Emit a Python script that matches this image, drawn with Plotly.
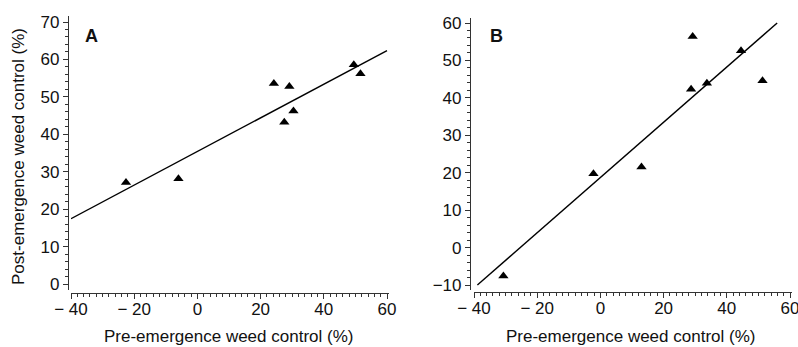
import numpy as np
import plotly.graph_objects as go

# Panel A data
pre_a = [-22.6, -6.0, 24.2, 29.1, 27.5, 30.4, 49.5, 51.6]
post_a = [27.1, 28.1, 53.6, 52.8, 43.2, 46.2, 58.6, 56.2]
# Panel B data
pre_b = [-30.7, -2.2, 13.0, 28.7, 29.2, 33.7, 44.5, 51.3]
post_b = [-7.6, 19.7, 21.5, 42.3, 56.4, 43.9, 52.6, 44.6]

xticks = [-40, -20, 0, 20, 40, 60]
xtick_text = ["\u2212 40", "\u2212 20", "0", "20", "40", "60"]
yticks_a = [0, 10, 20, 30, 40, 50, 60, 70]
yticks_b = [-10, 0, 10, 20, 30, 40, 50, 60]
ytick_text_b = ["\u221210", "0", "10", "20", "30", "40", "50", "60"]

fit_x_a = [-40, 60]
fit_y_limits_b = [-10, 60]

x_title = "Pre-emergence weed control (%)"
y_title = "Post-emergence weed control (%)"

W, H = 798, 347
FONT = "Liberation Sans, Arial, sans-serif"
INK = "#111"

sa, ia = np.polyfit(pre_a, post_a, 1)
sb, ib = np.polyfit(pre_b, post_b, 1)
line_a_x = np.array(fit_x_a, dtype=float)
line_a_y = sa * line_a_x + ia
line_b_y = np.array(fit_y_limits_b, dtype=float)
line_b_x = (line_b_y - ib) / sb

fig = go.Figure()
mk = dict(symbol="triangle-up", size=9, color="black")
fig.add_trace(go.Scatter(x=pre_a, y=post_a, mode="markers", marker=mk, xaxis="x", yaxis="y", showlegend=False))
fig.add_trace(go.Scatter(x=line_a_x, y=line_a_y, mode="lines", line=dict(color="black", width=1.4), xaxis="x", yaxis="y", showlegend=False))
fig.add_trace(go.Scatter(x=pre_b, y=post_b, mode="markers", marker=mk, xaxis="x2", yaxis="y2", showlegend=False))
fig.add_trace(go.Scatter(x=line_b_x, y=line_b_y, mode="lines", line=dict(color="black", width=1.4), xaxis="x2", yaxis="y2", showlegend=False))

def px(x):
    return x / W

def py(y):
    return (H - y) / H

tickfont = dict(family=FONT, size=17, color=INK)
common_x = dict(showgrid=False, zeroline=False, showline=True, linecolor="#333", linewidth=1.2,
                ticks="outside", ticklen=5, tickcolor="#333", tickwidth=1.2,
                tickfont=tickfont, tickvals=xticks, ticktext=xtick_text, automargin=False,
                ticklabeloverflow="allow", ticklabelstandoff=-5,
                minor=dict(dtick=2, ticks="outside", ticklen=3, tickcolor="#333", tickwidth=1),
                fixedrange=True)
common_y = dict(showgrid=False, zeroline=False, showline=True, linecolor="#333", linewidth=1.2,
                ticks="outside", ticklen=5, tickcolor="#333", tickwidth=1.2,
                tickfont=tickfont, automargin=False, ticklabeloverflow="allow",
                minor=dict(dtick=2, ticks="outside", ticklen=3, tickcolor="#333", tickwidth=1),
                fixedrange=True)

# Panel A geometry: x -40 at 71px, 60 at 387px; y 0 at 284px, 70 at 22px
xa_l, xa_r = 71, 389
ya_t, ya_b = 16, 290
xa_unit = (387 - 71) / 100.0
ya_unit = (284 - 22) / 70.0
fig.update_layout(
    xaxis=dict(common_x, domain=[px(xa_l), px(xa_r)], anchor="free", position=py(293),
               range=[-40 - (71 - xa_l) / xa_unit, -40 + (xa_r - 71) / xa_unit]),
    yaxis=dict(common_y, domain=[py(ya_b), py(ya_t)], anchor="free", position=px(68),
               range=[(284 - ya_b) / ya_unit, (284 - ya_t) / ya_unit],
               tickvals=yticks_a),
)

# Panel B geometry: x -40 at 474px, 60 at 790px; y -10 at 285px, 60 at 23px
xb_l, xb_r = 474, 792
yb_t, yb_b = 18, 290
xb_unit = (790 - 474) / 100.0
yb_unit = (285 - 23) / 70.0
fig.update_layout(
    xaxis2=dict(common_x, domain=[px(xb_l), px(xb_r)], anchor="free", position=py(292),
                range=[-40 - (474 - xb_l) / xb_unit, -40 + (xb_r - 474) / xb_unit]),
    yaxis2=dict(common_y, domain=[py(yb_b), py(yb_t)], anchor="free", position=px(470),
                range=[-10 + (285 - yb_b) / yb_unit, -10 + (285 - yb_t) / yb_unit],
                tickvals=yticks_b, ticktext=ytick_text_b),
)

title_font = dict(family=FONT, size=17, color=INK)
ann = dict(xref="paper", yref="paper", showarrow=False, xanchor="center", yanchor="middle")
fig.update_layout(
    width=W, height=H,
    margin=dict(l=0, r=0, t=0, b=0),
    paper_bgcolor="white", plot_bgcolor="white",
    annotations=[
        dict(ann, text="<b>A</b>", x=px(91), y=py(36), font=dict(family=FONT, size=18, color=INK)),
        dict(ann, text="<b>B</b>", x=px(496), y=py(36), font=dict(family=FONT, size=18, color=INK)),
        dict(ann, text=x_title, x=px(228), y=py(336), font=title_font),
        dict(ann, text=x_title, x=px(630), y=py(336), font=title_font),
        dict(ann, text=y_title, x=px(18), y=py(157), textangle=-90, font=title_font),
    ],
)

fig.write_html("out.html", config={"displayModeBar": False},
               post_script="document.body.style.margin='0';document.body.style.overflow='hidden';")
